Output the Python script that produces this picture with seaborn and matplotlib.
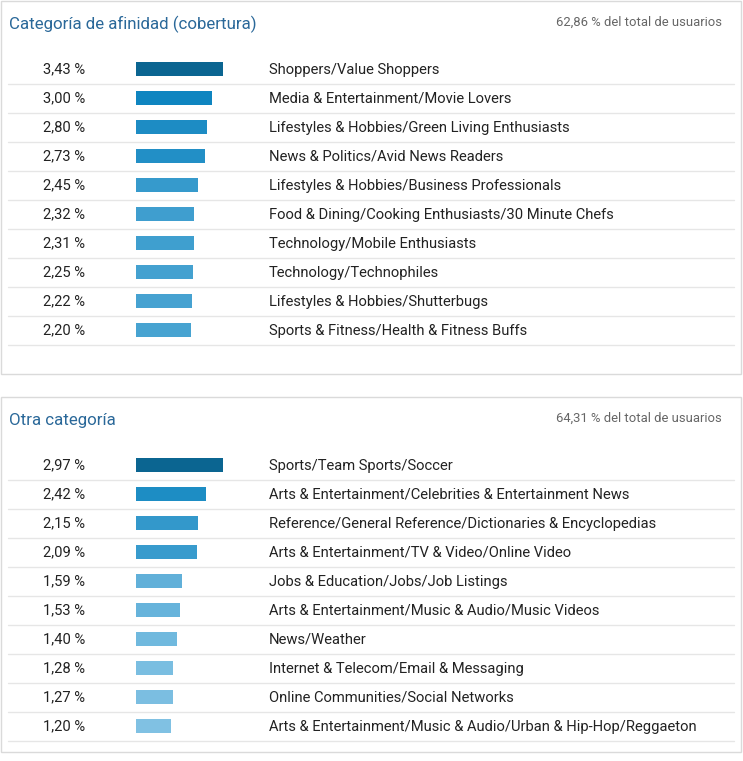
import numpy as np
import pandas as pd
import seaborn as sns
import matplotlib.pyplot as plt
from matplotlib.patches import Rectangle
from matplotlib.transforms import blended_transform_factory
from matplotlib.colors import to_rgb, to_hex

# Data
afinidad_titulo = 'Categoría de afinidad (cobertura)'
afinidad_total = '62,86 % del total de usuarios'
afinidad_cats = [
    'Shoppers/Value Shoppers',
    'Media & Entertainment/Movie Lovers',
    'Lifestyles & Hobbies/Green Living Enthusiasts',
    'News & Politics/Avid News Readers',
    'Lifestyles & Hobbies/Business Professionals',
    'Food & Dining/Cooking Enthusiasts/30 Minute Chefs',
    'Technology/Mobile Enthusiasts',
    'Technology/Technophiles',
    'Lifestyles & Hobbies/Shutterbugs',
    'Sports & Fitness/Health & Fitness Buffs',
]
afinidad_vals = [3.43, 3.00, 2.80, 2.73, 2.45, 2.32, 2.31, 2.25, 2.22, 2.20]

otra_titulo = 'Otra categoría'
otra_total = '64,31 % del total de usuarios'
otra_cats = [
    'Sports/Team Sports/Soccer',
    'Arts & Entertainment/Celebrities & Entertainment News',
    'Reference/General Reference/Dictionaries & Encyclopedias',
    'Arts & Entertainment/TV & Video/Online Video',
    'Jobs & Education/Jobs/Job Listings',
    'Arts & Entertainment/Music & Audio/Music Videos',
    'News/Weather',
    'Internet & Telecom/Email & Messaging',
    'Online Communities/Social Networks',
    'Arts & Entertainment/Music & Audio/Urban & Hip-Hop/Reggaeton',
]
otra_vals = [2.97, 2.42, 2.15, 2.09, 1.59, 1.53, 1.40, 1.28, 1.27, 1.20]

W, H = 743, 761
sns.set_theme(style='white')
plt.rcParams['font.family'] = ['Roboto', 'DejaVu Sans']

fig = plt.figure(figsize=(W / 100, H / 100), dpi=100)
fig.patch.set_facecolor('white')


def fx(px):
    return px / W


def fy(py):
    return 1 - py / H


def bar_colors(vals):
    # darkest for the top bar, then lighter blues as the share falls
    top = max(vals)
    hi, lo = np.array(to_rgb('#0f85c0')), np.array(to_rgb('#80c1e3'))
    cols = []
    for v in vals:
        r = v / top
        if r == 1:
            cols.append('#0b6591')
        else:
            t = np.clip((0.875 - r) / 0.47, 0, 1)
            cols.append(to_hex(hi + (lo - hi) * t))
    return cols


def panel(top_px, bottom_px, title, total, cats, vals):
    # panel frame
    fig.patches.append(Rectangle((fx(1), fy(bottom_px)), fx(740), (bottom_px - top_px) / H,
                                 transform=fig.transFigure, fill=False,
                                 edgecolor='#dadada', lw=1))
    fig.text(fx(9), fy(top_px + 21.5), title, color='#2a6899', fontsize=12.2,
             va='center_baseline', ha='left')
    fig.text(fx(722), fy(top_px + 20), total, color='#666666', fontsize=9.4,
             va='center_baseline', ha='right')

    row_top = top_px + 53.5
    row_h = 29
    ax = fig.add_axes([0, fy(row_top + row_h * len(cats)), 1, row_h * len(cats) / H])
    df = pd.DataFrame({'cat': cats, 'val': vals})
    sns.barplot(data=df, x='val', y='cat', hue='cat', palette=bar_colors(vals),
                legend=False, orient='h', width=0.46, ax=ax, saturation=1, linewidth=0)
    scale = 87 / max(vals)
    ax.set_xlim(-135.5 / scale, (W - 135.5) / scale)
    ax.set_ylim(len(cats) - 0.5, -0.5)
    ax.axis('off')

    tr = blended_transform_factory(ax.transAxes, ax.transData)
    for i, (c, v) in enumerate(zip(cats, vals)):
        ax.text(fx(85), i - 0.03, f'{v:.2f} %'.replace('.', ','), transform=tr,
                ha='right', va='center_baseline', fontsize=10.65, color='#222222')
        ax.text(fx(269), i - 0.03, c, transform=tr, ha='left', va='center_baseline',
                fontsize=10.65, color='#222222')
        ax.plot([fx(8), fx(734)], [i + 0.5, i + 0.5], transform=tr,
                color='#e6e6e6', lw=1, clip_on=False)


panel(1, 374, afinidad_titulo, afinidad_total, afinidad_cats, afinidad_vals)
panel(397, 752, otra_titulo, otra_total, otra_cats, otra_vals)

fig.savefig('out.png', dpi=100, facecolor='white')
